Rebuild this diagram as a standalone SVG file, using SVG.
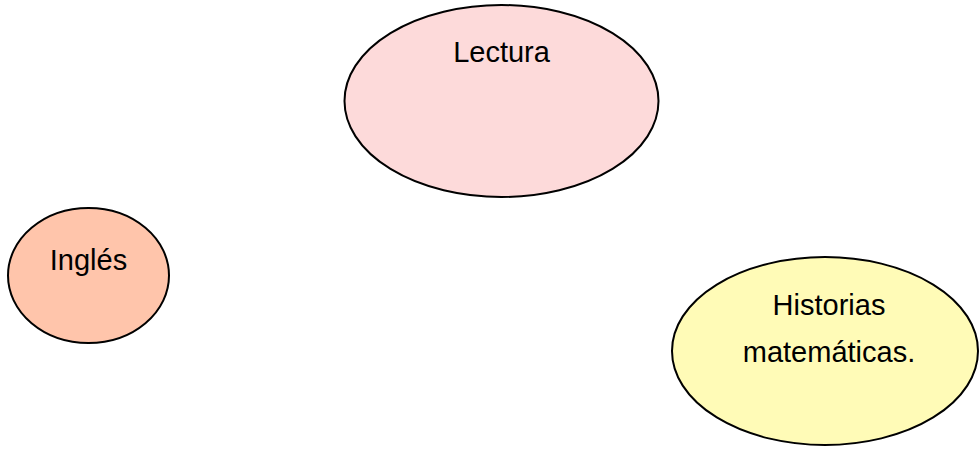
<svg xmlns="http://www.w3.org/2000/svg" width="979" height="452" viewBox="0 0 979 452">
<style>
.n{stroke:#000;stroke-width:2}
.t{font-family:"Liberation Sans",Arial,Helvetica,sans-serif;font-size:29px;fill:#000;text-anchor:middle}
</style>
<rect width="979" height="452" fill="#fff"/>
<g id="connectors"></g>
<g id="lectura">
<ellipse class="n" cx="501.5" cy="101" rx="157" ry="96" fill="#FDDADA"/>
<text class="t" x="501.5" y="62">Lectura</text>
</g>
<g id="ingles">
<ellipse class="n" cx="88.5" cy="275.5" rx="80.5" ry="67.5" fill="#FFC5AB"/>
<text class="t" x="88.5" y="270">Inglés</text>
</g>
<g id="historias">
<ellipse class="n" cx="825" cy="351" rx="153" ry="94" fill="#FFFBB7"/>
<text class="t" x="829" y="315">Historias</text>
<text class="t" x="829" y="362">matemáticas.</text>
</g>
</svg>
